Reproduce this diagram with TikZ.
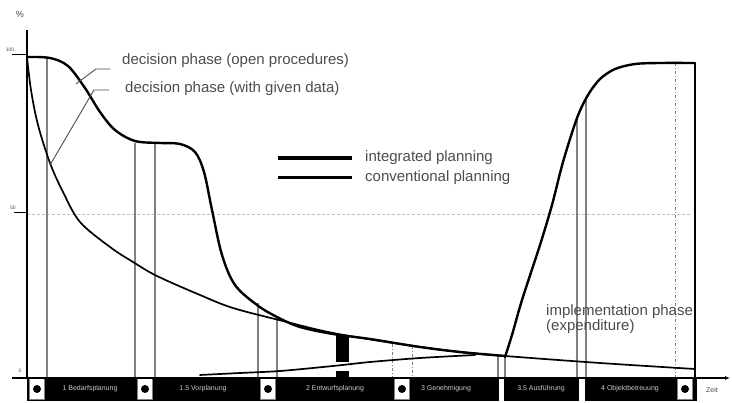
\documentclass[tikz,border=0pt]{standalone}
\usepackage{fontspec}
\setmainfont{Liberation Sans}
\usetikzlibrary{arrows.meta}
\begin{document}
\begin{tikzpicture}[x=1pt,y=-1pt,
  phaselabel/.style={text=black!70,font=\fontsize{15}{17}\selectfont,inner sep=0pt,anchor=west},
  ticklabel/.style={text=black!70,font=\fontsize{5}{6}\selectfont,inner sep=0pt},
  barlabel/.style={text=black!20,font=\fontsize{7}{8}\selectfont,inner sep=0pt},
  integrated/.style={line width=2.4pt,line cap=round,line join=round},
  conventional/.style={line width=1.7pt,line cap=round,line join=round},
  leader/.style={black!70,line width=0.9pt},
  phaseline/.style={black!50,line width=1.1pt},
  phasedash/.style={black!50,line width=1pt,dash dot},
  gate/.style={fill=white,draw=black!50,line width=0.5pt,minimum width=15pt,minimum height=21pt,inner sep=0pt}]
\useasboundingbox (0,0) rectangle (732,403);

% phase bar
\fill (27,377) rectangle (697,401);
\fill[white] (499,377) rectangle (504,401);
\fill[white] (579,377) rectangle (585,401);
\foreach \n/\x in {g1/37,g2/145,g3/268,g4/402,g5/685} {
  \node[gate] (\n) at (\x,389) {};
  \fill (\n.center) circle (4pt);
}
\node[barlabel] (b1) at (90,389) {1 Bedarfsplanung};
\node[barlabel] (b2) at (203,389) {1.5 Vorplanung};
\node[barlabel] (b3) at (335,389) {2 Entwurfsplanung};
\node[barlabel] (b4) at (446,389) {3 Genehmigung};
\node[barlabel] (b5) at (541,389) {3.5 Ausführung};
\node[barlabel] (b6) at (630,389) {4 Objektbetreuung};

% 50 % line
\draw[black!25,line width=0.8pt,dash pattern=on 3pt off 2pt] (27,214) -- (690,214);

% phase boundaries
\foreach \x/\t in {47/58,135/143,155/143,258/303,277/317,498/355,505/356,577/116,586/100}
  \draw[phaseline] (\x,\t) -- (\x,377);
\foreach \x/\t in {392/344,412/346,675/63}
  \draw[phasedash] (\x,\t) -- (\x,377);
\draw[line width=1.3pt] (695,63) -- (695,377);

% axes
\draw[line width=1.6pt] (27,30) -- (27,378);
\draw[line width=1.4pt,-{Latex[length=5pt,width=4pt]}] (12,378) -- (730,378);
\draw[line width=1pt] (12,55) -- (27,55);
\draw[line width=1pt] (14,213) -- (27,213);
\node[ticklabel] (pct) at (20,14) {\fontsize{9}{9}\selectfont\%};
\node[ticklabel] (t100) at (10,50) {100};
\node[ticklabel] (t50) at (13,208) {50};
\node[ticklabel] (t0) at (20,371) {0};
\node[ticklabel,font=\fontsize{7}{8}\selectfont] (tx) at (712,390) {Zeit};

% decision phase, conventional
\draw[conventional] plot[smooth,tension=0.55] coordinates {(27,57) (31,90) (38,125) (50,163) (63,192)
  (80,222) (110,247) (133,262) (157,276) (200,295) (233,308) (283,321) (333,333) (400,344)
  (460,352) (505,356) (600,363) (695,369)};
% decision phase, integrated
\draw[integrated] plot[smooth,tension=0.55] coordinates {(27,57) (50,58) (68,66) (85,88) (100,112)
  (115,130) (135,141) (160,143) (180,144) (195,152) (204,172) (212,210) (222,255) (235,285)
  (257,305) (277,317) (300,327) (333,334) (370,339) (420,347) (460,352) (505,356)};
% expenditure, conventional
\draw[conventional] plot[smooth,tension=0.5] coordinates {(200,375) (240,373) (280,371) (333,366)
  (370,362) (420,358) (475,355)};
% expenditure, integrated
\draw[integrated] plot[smooth,tension=0.5] coordinates {(505,357) (512,335) (522,300) (540,245)
  (552,205) (563,162) (577,118) (588,95) (600,79) (615,69) (635,64) (660,63) (695,63)};

% marker
\fill (336,335) rectangle (349,362);
\fill (336,371) rectangle (349,377);

% callouts
\node[phaselabel] (openproc) at (122,61) {decision phase (open procedures)};
\coordinate (openend) at (110,69);
\coordinate (openknee) at (96,69);
\coordinate (opentip) at (76,84);
\draw[leader] (openend) -- (openknee) -- (opentip);
\node[phaselabel] (givendata) at (125,89) {decision phase (with given data)};
\coordinate (givenend) at (109,90);
\coordinate (givenknee) at (94,90);
\coordinate (giventip) at (50,165);
\draw[leader] (givenend) -- (givenknee) -- (giventip);
\node[phaselabel] (impl) at (546,312) {implementation phase};
\node[phaselabel,anchor=north west] (expend) at (impl.south west) {(expenditure)};

% legend
\coordinate (intA) at (278,158);
\coordinate (intB) at (352,158);
\coordinate (conA) at (278,178);
\coordinate (conB) at (352,178);
\draw[line width=3.8pt] (intA) -- (intB);
\draw[line width=3pt] (conA) -- (conB);
\node[phaselabel] (intlab) at (365,158) {integrated planning};
\node[phaselabel] (conlab) at (365,178) {conventional planning};
\end{tikzpicture}
\end{document}
